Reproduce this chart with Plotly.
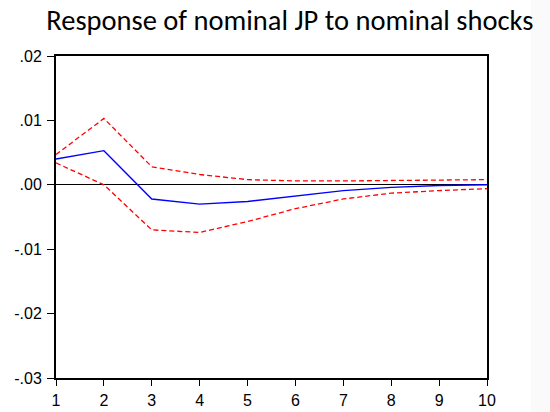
import plotly.graph_objects as go

periods = [1, 2, 3, 4, 5, 6, 7, 8, 9, 10]
response = [0.0040, 0.0053, -0.0022, -0.0030, -0.0026, -0.0017, -0.0009, -0.0004, -0.0001, 0.0000]
upper = [0.0047, 0.0103, 0.0028, 0.0016, 0.0008, 0.0006, 0.0006, 0.0007, 0.0008, 0.0008]
lower = [0.0034, 0.0000, -0.0070, -0.0074, -0.0057, -0.0037, -0.0022, -0.0013, -0.0009, -0.0006]
ytick_vals = [-0.03, -0.02, -0.01, 0.0, 0.01, 0.02]
ytick_text = ["-.03", "-.02", "-.01", ".00", ".01", ".02"]
title = "Response of nominal JP to nominal shocks"

fig = go.Figure()
fig.add_trace(go.Scatter(x=periods, y=upper, mode="lines",
                         line=dict(color="#ff0000", width=1.3, dash="5px,3px")))
fig.add_trace(go.Scatter(x=periods, y=lower, mode="lines",
                         line=dict(color="#ff0000", width=1.3, dash="5px,3px")))
fig.add_trace(go.Scatter(x=periods, y=response, mode="lines",
                         line=dict(color="#0000ff", width=1.4)))

fig.add_shape(type="rect", xref="paper", yref="paper", x0=(531-56)/431, x1=(552-56)/431,
              y0=-0.2, y1=1.3, fillcolor="#fafafa", line=dict(width=0), layer="below")

fig.update_layout(
    width=550, height=412,
    margin=dict(l=56, r=63, t=56, b=34, autoexpand=False),
    paper_bgcolor="white", plot_bgcolor="white",
    showlegend=False,
    title=dict(text=title, x=0.527, xanchor="center", y=0.952, yanchor="middle",
               font=dict(family="Carlito, Open Sans", size=28.5, color="black")),
    font=dict(family="Liberation Sans", size=16, color="black"),
)
fig.update_xaxes(range=[1, 10], tickvals=periods, ticks="outside", ticklen=6,
                 tickwidth=1.2, tickcolor="black", showgrid=False, zeroline=False,
                 showline=True, linecolor="black", linewidth=2, mirror=True,
                 ticklabelstandoff=1, automargin=False,
                 tickfont=dict(family="Liberation Sans", size=16))
fig.update_yaxes(range=[-0.03, 0.02], tickvals=ytick_vals, ticktext=ytick_text,
                 ticks="outside", ticklen=7, tickwidth=1.2, tickcolor="black",
                 showgrid=False, zeroline=True, zerolinecolor="black", zerolinewidth=1,
                 showline=True, linecolor="black", ticklabelstandoff=2, automargin=False,
                 linewidth=2, mirror=True, tickfont=dict(family="Liberation Sans", size=16))

fig.write_html("out.html")
